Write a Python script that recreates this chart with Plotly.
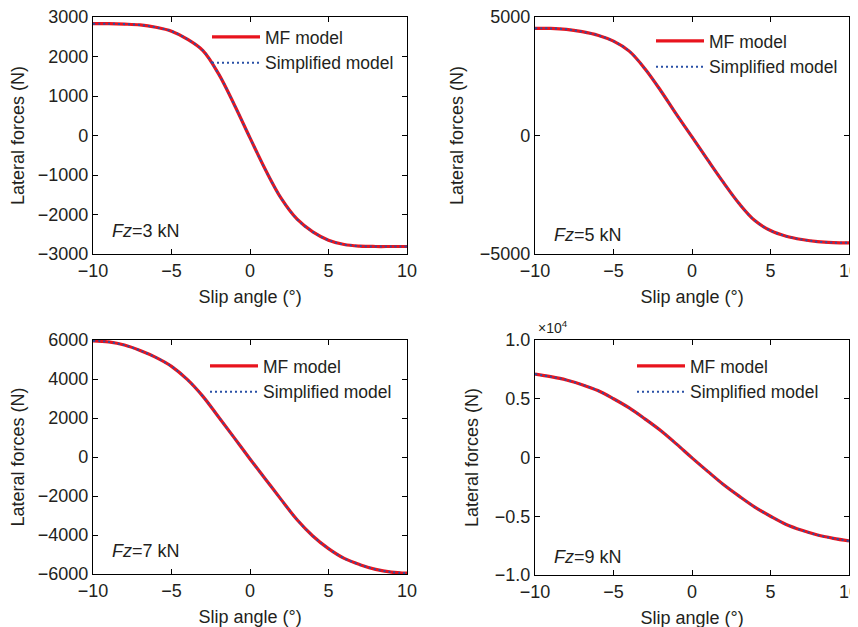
import plotly.graph_objects as go

# the page body adds an 8px margin; positions below are page pixels shifted by it
OFF = 8
W, H = 858, 627

slip = [-10, -9, -8, -7, -6, -5, -4, -3, -2, -1, 0, 1, 2, 3, 4, 5, 6, 7, 8, 9, 10]

# lateral force (N), MF model and simplified model overlap
fy_3kn = [2830, 2830, 2820, 2800, 2740, 2640, 2440, 2150, 1560, 780, -60,
          -880, -1600, -2120, -2440, -2650, -2760, -2800, -2810, -2810, -2810]
fy_5kn = [4520, 4520, 4480, 4380, 4230, 3980, 3560, 2820, 1900, 900, -60,
          -1030, -1980, -2870, -3590, -4010, -4250, -4390, -4480, -4520, -4530]
fy_7kn = [5960, 5900, 5740, 5460, 5110, 4650, 3980, 3110, 2050, 980, -100,
          -1150, -2200, -3220, -4050, -4700, -5200, -5520, -5760, -5900, -5960]
fy_9kn = [7100, 6880, 6600, 6200, 5700, 5000, 4220, 3290, 2300, 1160, -30,
          -1180, -2300, -3290, -4220, -5000, -5700, -6200, -6600, -6880, -7100]

panels = [
    # data, label, plot box in page px (left, right, top, bottom), y range, y ticks, y tick text
    (fy_3kn, "3 kN", (93, 407, 17, 254), [-3000, 3000],
     [-3000, -2000, -1000, 0, 1000, 2000, 3000], None),
    (fy_5kn, "5 kN", (535, 849, 17, 254), [-5000, 5000],
     [-5000, 0, 5000], None),
    (fy_7kn, "7 kN", (93, 407, 340, 574), [-6000, 6000],
     [-6000, -4000, -2000, 0, 2000, 4000, 6000], None),
    (fy_9kn, "9 kN", (535, 849, 340, 575), [-10000, 10000],
     [-10000, -5000, 0, 5000, 10000], ["\u22121.0", "\u22120.5", "0", "0.5", "1.0"]),
]
legend_pos = [(207, 19), (651, 23), (205, 348), (632, 348)]
label_pos = [(110, 231), (552, 235), (110, 551), (552, 557)]

RED = "#e8141e"
BLUE = "#2a50a6"
TXT = "#231f20"
FONT = "Liberation Sans, Arial, sans-serif"
FS = 18


def px_x(v):
    return (v - OFF) / W


def px_y(v):
    return 1 - (v - OFF) / H


fig = go.Figure()
for i, (fy, fz, box, yr, yt, ytt) in enumerate(panels):
    n = "" if i == 0 else str(i + 1)
    leg = "legend" + n
    l, r, t, b = box
    fig.add_scatter(x=slip, y=fy, mode="lines", name="MF model", legend=leg,
                    xaxis="x" + n, yaxis="y" + n, line_shape="spline",
                    line={"color": RED, "width": 3.2})
    fig.add_scatter(x=slip, y=fy, mode="lines", name="Simplified model", legend=leg,
                    xaxis="x" + n, yaxis="y" + n, line_shape="spline",
                    line={"color": BLUE, "width": 2, "dash": "2px,3px"})
    axis_style = dict(showline=True, linecolor="black", linewidth=1.3, mirror="ticks",
                      ticks="inside", ticklen=5, tickcolor="black", tickwidth=1,
                      showgrid=False, zeroline=False, automargin=False,
                      ticklabeloverflow="allow",
                      tickfont={"size": FS, "color": TXT})
    fig.layout["xaxis" + n] = dict(
        axis_style, domain=[px_x(l), px_x(r)], anchor="y" + n, range=[-10, 10],
        tickvals=[-10, -5, 0, 5, 10],
        title={"text": "Slip angle (\u00b0)", "standoff": 10, "font": {"size": FS}})
    yax = dict(axis_style, domain=[px_y(b), px_y(t)], anchor="x" + n, range=yr,
               tickvals=yt,
               title={"text": "Lateral forces (N)", "standoff": 11, "font": {"size": FS}})
    if ytt:
        yax["ticktext"] = ytt
    fig.layout["yaxis" + n] = yax
    lx, ly = legend_pos[i]
    fig.layout[leg] = dict(x=px_x(lx), y=px_y(ly), xanchor="left", yanchor="top",
                           bgcolor="rgba(0,0,0,0)", borderwidth=0, itemwidth=48,
                           tracegroupgap=0, font={"size": 17.5, "color": TXT})
    ax, ay = label_pos[i]
    fig.add_annotation(x=px_x(ax), y=px_y(ay), xref="paper", yref="paper",
                       xanchor="left", yanchor="middle", showarrow=False,
                       text="<i>Fz</i>=" + fz, font={"size": FS, "color": TXT})

fig.add_annotation(x=px_x(536), y=px_y(327), xref="paper", yref="paper",
                   xanchor="left", yanchor="middle", showarrow=False,
                   text="\u00d710<sup>4</sup>", font={"size": 14, "color": TXT})

fig.update_layout(width=W, height=H, margin={"l": 0, "r": 0, "t": 0, "b": 0},
                  paper_bgcolor="white", plot_bgcolor="white",
                  font={"family": FONT, "color": TXT, "size": FS})
fig.write_html("out.html")
